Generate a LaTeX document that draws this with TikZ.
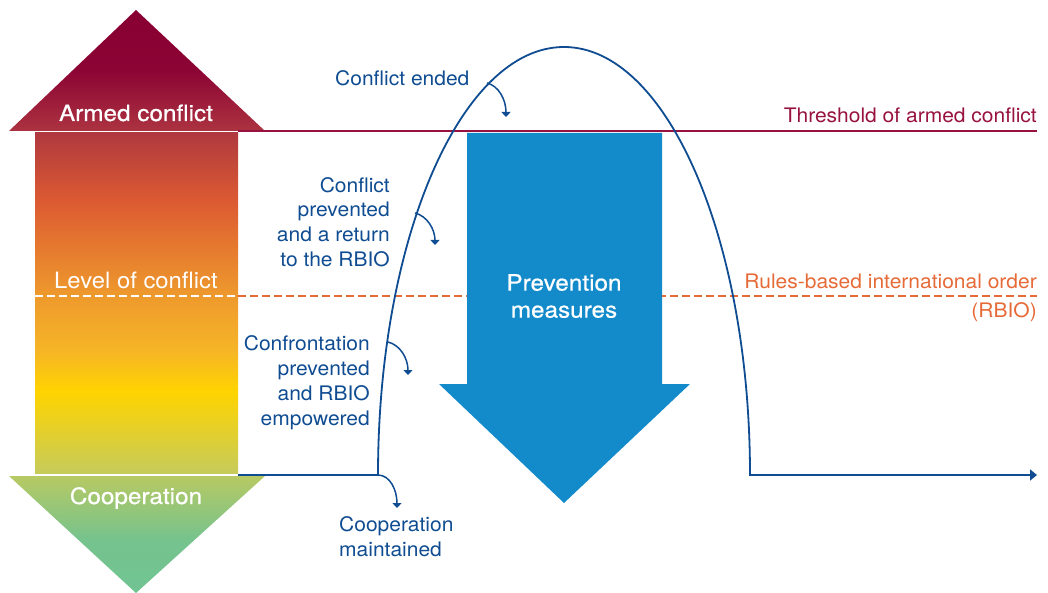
\documentclass[tikz,border=0pt]{standalone}
\usepackage{fontspec}
\setmainfont{TeX Gyre Heros}[FakeStretch=1.05]
\newfontfamily\medfont{TeX Gyre Heros}[FakeBold=0.6,FakeStretch=1.08]
\newfontfamily\widefont{TeX Gyre Heros}[FakeStretch=1.06]
\usetikzlibrary{arrows.meta}

\definecolor{navy}{HTML}{0F4C91}
\definecolor{crimson}{HTML}{98123F}
\definecolor{rbio}{HTML}{E66A37}
\definecolor{prevblue}{HTML}{138BCB}

\definecolor{lvA}{HTML}{C6CB5B}
\definecolor{lvB}{HTML}{FFD400}
\definecolor{lvC}{HTML}{F6B526}
\definecolor{lvD}{HTML}{EE9A2D}
\definecolor{lvE}{HTML}{E67A2F}
\definecolor{lvF}{HTML}{DC5A32}
\definecolor{lvG}{HTML}{B0393F}
\definecolor{armA}{HTML}{AC3340}
\definecolor{armB}{HTML}{8C0434}
\definecolor{armC}{HTML}{880031}
\definecolor{coopA}{HTML}{70C493}
\definecolor{coopB}{HTML}{76C38D}
\definecolor{coopC}{HTML}{B7C963}

\pgfdeclareverticalshading{levelshade}{100bp}{color(0bp)=(lvA); color(25bp)=(lvA);
  color(37bp)=(lvB); color(43bp)=(lvC); color(51bp)=(lvD); color(58bp)=(lvE);
  color(65bp)=(lvF); color(75bp)=(lvG); color(100bp)=(lvG)}
\pgfdeclareverticalshading{armedshade}{100bp}{color(0bp)=(armA); color(25bp)=(armA);
  color(50bp)=(armB); color(75bp)=(armC); color(100bp)=(armC)}
\pgfdeclareverticalshading{coopshade}{100bp}{color(0bp)=(coopA); color(25bp)=(coopA);
  color(48bp)=(coopB); color(75bp)=(coopC); color(100bp)=(coopC)}

\begin{document}
\begin{tikzpicture}[x=1pt,y=-1pt,
    navyline/.style={draw=navy,line width=1.8pt},
    smallarrow/.style={draw=navy,line width=1.5pt,-{Triangle[width=9pt,length=5pt]}},
    bluetext/.style={text=navy,font=\fontsize{20}{24.8}\selectfont,inner sep=0pt},
    whitetext/.style={text=white,font=\medfont\fontsize{22.5}{27}\selectfont,inner sep=0pt}]

  \useasboundingbox (0,0) rectangle (1048,593);

  % the level of conflict bar
  \shade[shading=armedshade] (9,131) -- (136,10) -- (265,131) -- cycle;
  \shade[shading=levelshade] (35,133) rectangle (238,473);
  \shade[shading=coopshade] (9,476) -- (265,476) -- (136,593) -- cycle;

  \coordinate (thrL) at (238,131);
  \coordinate (thrR) at (1037,131);
  \coordinate (lvlL) at (35,296);
  \coordinate (lvlR) at (238,296);
  \coordinate (rbioR) at (1037,296);

  \draw[crimson,line width=2pt] (thrL) -- (thrR);
  \draw[white,line width=2.4pt,dash pattern=on 7.5pt off 4.5pt] (lvlL) -- (lvlR);
  \draw[rbio,line width=2.4pt,dash pattern=on 7.5pt off 4.5pt] (lvlR) -- (rbioR);

  % prevention arrow
  \fill[prevblue] (467,133) -- (662,133) -- (662,384) -- (690,384) -- (564,503)
    -- (439,384) -- (467,384) -- cycle;

  \begin{scope}[every node/.style=whitetext]
    \node[anchor=base] (armed) at (136,121) {Armed conflict};
    \node[anchor=base,font=\widefont\fontsize{22.5}{27}\selectfont] (level) at (136,289) {Level of conflict};
    \node[anchor=base] (coop) at (136,504) {Cooperation};
    \node[anchor=north,align=center] (prev) at (564,274) {Prevention\\measures};
  \end{scope}

  \begin{scope}[every node/.style=bluetext]
    \node[anchor=base west] (ended) at (335,86) {Conflict ended};
    \node[anchor=north east,align=right] (returned) at (390,177) {Conflict\\prevented\\and a return\\to the RBIO};
    \node[anchor=north east,align=right] (empowered) at (370,335.5) {Confrontation\\prevented\\and RBIO\\empowered};
    \node[anchor=north west,align=left] (maintained) at (339,516.5) {Cooperation\\maintained};
  \end{scope}

  \node[anchor=base east,inner sep=0pt,text=crimson,font=\fontsize{20}{24}\selectfont] (thr) at (1037,123) {Threshold of armed conflict};
  \node[anchor=base east,inner sep=0pt,text=rbio,font=\fontsize{20}{24}\selectfont] (rbio1) at (1037,289) {Rules-based international order};
  \node[anchor=base east,inner sep=0pt,text=rbio,font=\fontsize{20}{24}\selectfont] (rbio2) at (1037,317) {(RBIO)};

  % path of the conflict
  \coordinate (baseL) at (238,475);
  \coordinate (arcL) at (378,475);
  \coordinate (arcR) at (750,475);
  \coordinate (baseR) at (1037,475);
  \draw[navyline,-{Triangle[width=11pt,length=7pt]}] (baseL) -- (arcL)
    arc[start angle=180,end angle=360,x radius=186,y radius=428] -- (baseR);

  \coordinate (ce1) at (487,83);   \coordinate (ce2) at (506,117);
  \coordinate (cp1) at (415,213);  \coordinate (cp2) at (435,245);
  \coordinate (cf1) at (388,342);  \coordinate (cf2) at (408,375);
  \coordinate (cm2) at (397,508);

  \draw[smallarrow] (ce1) .. controls (499,86) and (506,100) .. (ce2);
  \draw[smallarrow] (cp1) .. controls (427,216) and (435,229) .. (cp2);
  \draw[smallarrow] (cf1) .. controls (400,345) and (408,358) .. (cf2);
  \draw[smallarrow] (arcL) .. controls (390,475) and (397,490) .. (cm2);

\end{tikzpicture}
\end{document}
